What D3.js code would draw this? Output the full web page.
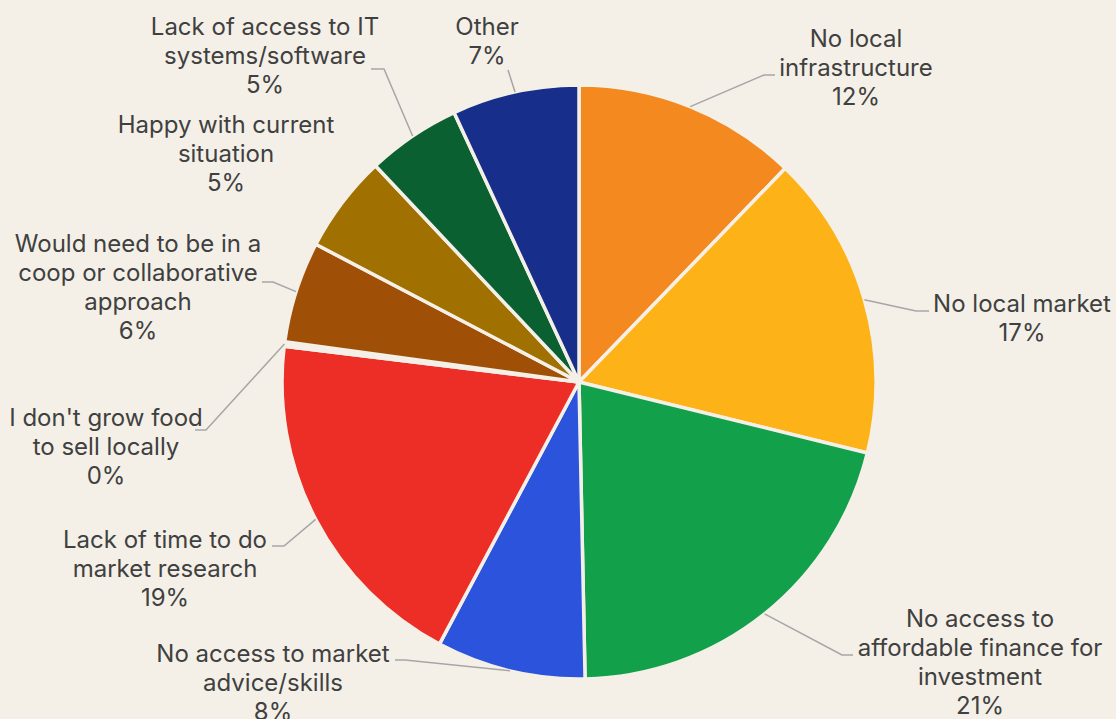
<!DOCTYPE html>
<html>
<head>
<meta charset="utf-8">
<script src="https://cdn.jsdelivr.net/npm/d3@7"></script>
<style>
  body { margin: 0; background: #f4f0e8; }
  svg { display: block; }
</style>
</head>
<body>
<svg id="chart" width="1116" height="719"></svg>
<script>
// slice labels, clockwise from 12 o'clock
const categories = [
  "No local infrastructure",
  "No local market",
  "No access to affordable finance for investment",
  "No access to market advice/skills",
  "Lack of time to do market research",
  "I don't grow food to sell locally",
  "Would need to be in a coop or collaborative approach",
  "Happy with current situation",
  "Lack of access to IT systems/software",
  "Other"
];
// percent share
const shares = [12.2, 16.6, 20.8, 8.1, 19.1, 0.25, 5.5, 5.3, 5.1, 6.9];
const colors = ["#f4891f", "#fdb318", "#12a04b", "#2b53dc", "#ec2e26",
                "#f4f0e8", "#9f5006", "#a07000", "#0a6030", "#172e8a"];

// how the label text wraps
const labelLines = [
  ["No local", "infrastructure"],
  ["No local market"],
  ["No access to", "affordable finance for", "investment"],
  ["No access to market", "advice/skills"],
  ["Lack of time to do", "market research"],
  ["I don't grow food", "to sell locally"],
  ["Would need to be in a", "coop or collaborative", "approach"],
  ["Happy with current", "situation"],
  ["Lack of access to IT", "systems/software"],
  ["Other"]
];

// label layout: text centre / first line y, leader elbow, horizontal end
const labelLayout = [
  { tx: 856, ty: 38, ex: 764, ey: 75, hx: 775 },
  { tx: 1022, ty: 303, ex: 916, ey: 311, hx: 929 },
  { tx: 980, ty: 618, ex: 842, ey: 655, hx: 853 },
  { tx: 273, ty: 653, ex: 405, ey: 660, hx: 395 },
  { tx: 165, ty: 539, ex: 284, ey: 546, hx: 272 },
  { tx: 106, ty: 417, ex: 206, ey: 430, hx: 195 },
  { tx: 138, ty: 243, ex: 273, ey: 282, hx: 262 },
  { tx: 226, ty: 124, ex: null, ey: null, hx: null },
  { tx: 265, ty: 26, ex: 384, ey: 69, hx: 371 },
  { tx: 487, ty: 26, ex: 508, ey: 70, hx: null }
];

const cx = 579, cy = 382, radius = 297;
const lineH = 29;
const bg = "#f4f0e8";

const svg = d3.select("#chart");
svg.append("rect").attr("width", 1116).attr("height", 719).attr("fill", bg);

const data = categories.map((c, i) => ({ name: c, value: shares[i], idx: i }));
const total = d3.sum(shares);

const pie = d3.pie().sort(null).value(d => d.value);
const arc = d3.arc().innerRadius(0).outerRadius(radius);
const arcs = pie(data);

const g = svg.append("g").attr("transform", `translate(${cx},${cy})`);

g.selectAll("path.slice")
  .data(arcs)
  .join("path")
    .attr("class", "slice")
    .attr("d", arc)
    .attr("fill", d => colors[d.data.idx])
    .attr("stroke", bg)
    .attr("stroke-width", 3.5)
    .attr("stroke-linejoin", "round");

// leader lines from the slice's mid angle on the rim
const leaders = svg.append("g");
arcs.forEach(d => {
  const lay = labelLayout[d.data.idx];
  if (lay.ex == null) return;
  const mid = (d.startAngle + d.endAngle) / 2;
  const sx = cx + radius * Math.sin(mid);
  const sy = cy - radius * Math.cos(mid);
  const pts = [[sx, sy], [lay.ex, lay.ey]];
  if (lay.hx != null) pts.push([lay.hx, lay.ey]);
  leaders.append("path")
    .attr("d", d3.line()(pts))
    .attr("fill", "none")
    .attr("stroke", "#a6a6a6")
    .attr("stroke-width", 1.5);
});

// labels
const labels = svg.append("g")
  .attr("font-family", "Inter, 'Noto Sans', sans-serif")
  .attr("font-size", 24)
  .attr("fill", "#404040")
  .attr("text-anchor", "middle");

data.forEach((d, i) => {
  const lay = labelLayout[i];
  const lines = labelLines[i].concat([Math.round(d.value / total * 100) + "%"]);
  const t = labels.append("text")
    .attr("x", lay.tx)
    .attr("y", lay.ty)
    .attr("dominant-baseline", "central");
  lines.forEach((ln, j) => {
    t.append("tspan")
      .attr("x", lay.tx)
      .attr("y", lay.ty + j * lineH)
      .text(ln);
  });
});
</script>
</body>
</html>
